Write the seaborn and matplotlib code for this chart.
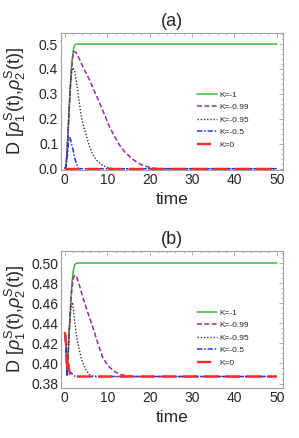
import matplotlib
matplotlib.use("Agg")
import matplotlib.pyplot as plt
import seaborn as sns
from matplotlib.ticker import MultipleLocator

# -------------------------------
# DATA
# -------------------------------
labels = ['K=-1', 'K=-0.99', 'K=-0.95', 'K=-0.5', 'K=0']

# panel (a)
t_a_k1 = [0, 0.25, 0.5, 0.75, 1.0, 1.25, 1.5, 1.75, 2.0, 2.25, 2.5, 3.0, 5, 50]
d_a_k1 = [0, 0.01, 0.06, 0.14, 0.23, 0.32, 0.39, 0.44, 0.475, 0.493, 0.499, 0.5, 0.5, 0.5]

t_a_k099 = [0, 0.25, 0.5, 0.75, 1.0, 1.25, 1.5, 1.8, 2.1, 2.6, 3.5, 4.5, 5.8, 7.0, 8.2,
            9.4, 10.5, 11.7, 12.85, 14, 15.2, 16.4, 17.5, 18.7, 20, 21, 23, 50]
d_a_k099 = [0, 0.01, 0.06, 0.14, 0.23, 0.31, 0.38, 0.44, 0.471, 0.466, 0.438, 0.40, 0.357, 0.31, 0.264,
            0.215, 0.17, 0.13, 0.096, 0.07, 0.05, 0.033, 0.02, 0.012, 0.005, 0.002, 0, 0]

t_a_k095 = [0, 0.25, 0.5, 0.75, 1.0, 1.25, 1.5, 1.8, 2.3, 2.7, 3.1, 3.5, 3.9, 4.5, 5.1,
            5.8, 6.6, 7.4, 8.2, 9.0, 9.7, 10.5, 11.5, 50]
d_a_k095 = [0, 0.01, 0.06, 0.14, 0.23, 0.31, 0.37, 0.405, 0.395, 0.35, 0.304, 0.255, 0.21, 0.165, 0.13,
            0.09, 0.056, 0.036, 0.023, 0.013, 0.007, 0.003, 0, 0]

t_a_k05 = [0, 0.3, 0.6, 0.9, 1.17, 1.4, 1.7, 1.95, 2.3, 2.7, 3.1, 3.5, 50]
d_a_k05 = [0, 0.005, 0.05, 0.11, 0.125, 0.115, 0.09, 0.076, 0.045, 0.023, 0.003, 0, 0]

t_a_k0 = [0, 50]
d_a_k0 = [0, 0]

# panel (b)
t_b_k1 = [0, 0.2, 0.4, 0.55, 0.8, 1.0, 1.2, 1.45, 1.7, 2.0, 2.3, 2.6, 3.0, 5, 50]
d_b_k1 = [0.431, 0.425, 0.405, 0.388, 0.41, 0.43, 0.445, 0.466, 0.481, 0.492, 0.498, 0.4995, 0.5, 0.5, 0.5]

t_b_k099 = [0, 0.2, 0.4, 0.55, 0.8, 1.0, 1.2, 1.45, 1.7, 2.0, 2.35, 2.8, 3.5, 4.3, 5.4,
            6.6, 7.8, 8.95, 10.1, 11.7, 13.2, 14.8, 16.5, 18, 50]
d_b_k099 = [0.431, 0.425, 0.405, 0.388, 0.41, 0.43, 0.444, 0.463, 0.476, 0.485, 0.488, 0.486, 0.477, 0.465, 0.451,
            0.436, 0.42, 0.406, 0.398, 0.392, 0.389, 0.3875, 0.387, 0.387, 0.387]

t_b_k095 = [0, 0.2, 0.4, 0.55, 0.8, 1.0, 1.2, 1.5, 1.8, 2.34, 2.7, 3.1, 3.5, 3.9, 4.5,
            5.05, 5.8, 6.6, 7.5, 50]
d_b_k095 = [0.431, 0.425, 0.405, 0.388, 0.41, 0.43, 0.443, 0.458, 0.461, 0.441, 0.43, 0.42, 0.412, 0.4045, 0.398,
            0.393, 0.389, 0.3875, 0.387, 0.387]

t_b_k05 = [0, 0.2, 0.4, 0.55, 0.8, 1.2, 1.6, 2.5, 50]
d_b_k05 = [0.426, 0.42, 0.40, 0.388, 0.391, 0.392, 0.39, 0.387, 0.387]

t_b_k0 = [0, 0.2, 0.4, 0.6, 0.8, 1.0, 1.3, 2.0, 50]
d_b_k0 = [0.431, 0.427, 0.41, 0.393, 0.40, 0.393, 0.389, 0.387, 0.387]

# -------------------------------
# STYLE
# -------------------------------
sns.set_theme(style='white')
plt.rcParams['font.family'] = ['Liberation Sans', 'DejaVu Sans']
plt.rcParams['mathtext.fontset'] = 'custom'
plt.rcParams['mathtext.rm'] = 'Liberation Sans'
plt.rcParams['mathtext.it'] = 'Liberation Sans:italic'

colors = ['#3cb83c', '#9a2a9a', '#333333', '#1a3cff', '#ff2a2a']
dashes = [None, (3.2, 1.6), (1.0, 1.3), (3.5, 1.2, 1.0, 1.2), (6.0, 3.0)]
widths = [1.1, 1.1, 1.0, 1.1, 1.7]

frame_col = '#a0a0a0'
ylab = r'D [$\rho_1^{\mathrm{S}}$(t),$\rho_2^{\mathrm{S}}$(t)]'


def draw_panel(ax, series, title, ylim, ymaj, ymin, yfmt):
    for (t, d), lab, c, ds, lw in zip(series, labels, colors, dashes, widths):
        kw = dict(x=t, y=d, ax=ax, color=c, label=lab, linewidth=lw,
                  errorbar=None, sort=False)
        if ds is not None:
            kw['dashes'] = ds
        sns.lineplot(**kw)

    ax.set_xlim(-0.9, 51.4)
    ax.set_ylim(*ylim)
    ax.xaxis.set_major_locator(MultipleLocator(10))
    ax.xaxis.set_minor_locator(MultipleLocator(2))
    ax.yaxis.set_major_locator(MultipleLocator(ymaj))
    ax.yaxis.set_minor_locator(MultipleLocator(ymin))
    ax.yaxis.set_major_formatter(plt.FormatStrFormatter(yfmt))
    ax.tick_params(which='both', direction='in', color=frame_col,
                   top=True, right=True, labelsize=10, pad=2)
    ax.tick_params(which='major', length=3, width=0.6)
    ax.tick_params(which='minor', length=1.5, width=0.5)
    for sp in ax.spines.values():
        sp.set_color(frame_col)
        sp.set_linewidth(0.8)

    ax.set_title(title, fontsize=13, pad=5)
    ax.set_xlabel('time', fontsize=12.5, labelpad=4)
    ax.set_ylabel(ylab, fontsize=13)
    ax.yaxis.set_label_coords(-0.15, 0.5)

    ax.legend(loc='upper left', bbox_to_anchor=(0.6, 0.6), frameon=False,
              fontsize=6, handlelength=2.3, handletextpad=0.36,
              labelspacing=0.55, borderaxespad=0)


fig = plt.figure(figsize=(2.99, 4.38), dpi=100)
ax_a = fig.add_axes([0.204, 0.612, 0.742, 0.313])
ax_b = fig.add_axes([0.204, 0.114, 0.742, 0.313])

series_a = [(t_a_k1, d_a_k1), (t_a_k099, d_a_k099), (t_a_k095, d_a_k095),
            (t_a_k05, d_a_k05), (t_a_k0, d_a_k0)]
series_b = [(t_b_k1, d_b_k1), (t_b_k099, d_b_k099), (t_b_k095, d_b_k095),
            (t_b_k05, d_b_k05), (t_b_k0, d_b_k0)]

draw_panel(ax_a, series_a, '(a)', (-0.005, 0.545), 0.1, 0.02, '%.1f')
draw_panel(ax_b, series_b, '(b)', (0.3755, 0.512), 0.02, 0.005, '%.2f')

fig.savefig('out.png', dpi=100)
plt.close(fig)
